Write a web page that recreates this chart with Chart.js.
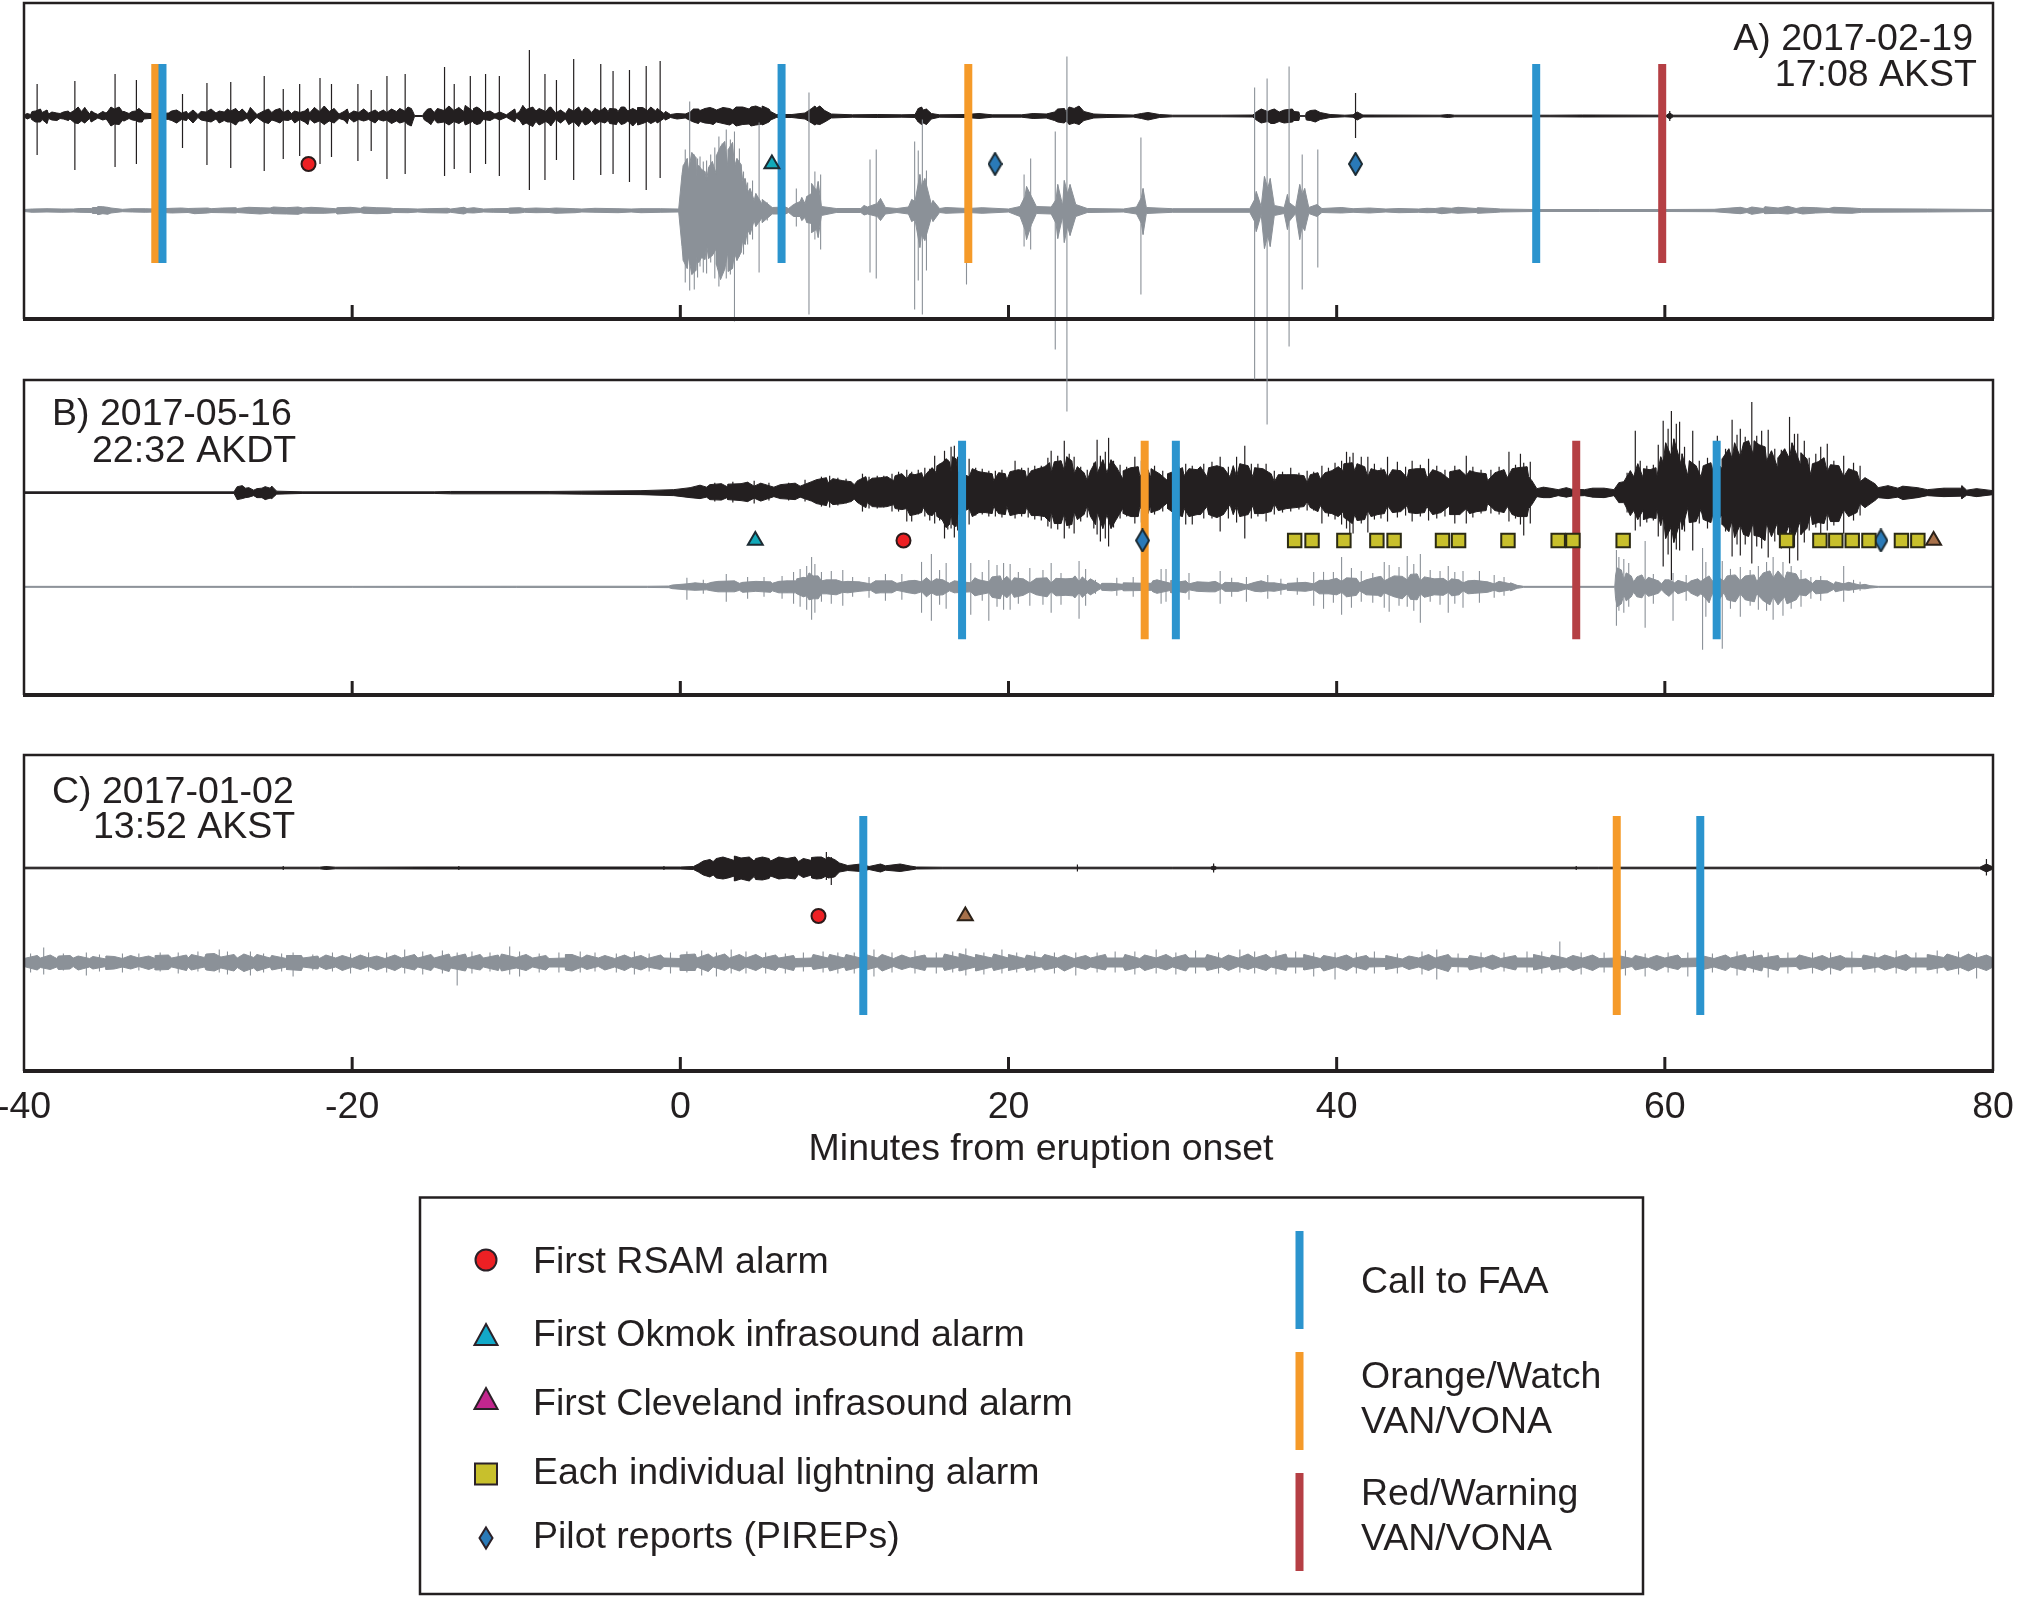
<!DOCTYPE html>
<html>
<head>
<meta charset="utf-8">
<title>Eruption timelines</title>
<script src="https://cdn.jsdelivr.net/npm/chart.js@4"></script>
<style>
  html, body { margin: 0; padding: 0; background: #fff; }
  #wrap { position: relative; width: 2018px; height: 1599px; overflow: hidden; }
  canvas { position: absolute; left: 0; top: 0; }
</style>
</head>
<body>
<div id="wrap">
  <canvas id="panelC" width="2018" height="1599"></canvas>
  <canvas id="panelB" width="2018" height="1599"></canvas>
  <canvas id="panelA" width="2018" height="1599"></canvas>
</div>
<script>
// minutes from onset; amplitudes are [minute, up, down] around the trace baseline
var tickValues = [-40, -20, 0, 20, 40, 60, 80];

// ---- panel A, 2017-02-19
var aSeisEnv = [[-40,.1,.1],[-39.6,.15,.15],[-39.3,.5,.6],[-38.9,.35,.35],[-38.5,.2,.25],[-37.8,.25,.25],[-37.2,.3,.3],[-36.9,.6,.7],[-36.5,.45,.5],[-36,.2,.25],[-35.5,.15,.2],[-35,.3,.3],[-34.5,.7,.8],[-34,.45,.45],[-33.6,.25,.25],[-33.2,.5,.45],[-32.7,.3,.3],[-32,.2,.2],[-31.2,.3,.35],[-30.4,.3,.35],[-30,.2,.2],[-29.4,.15,.15],[-28.9,.4,.5],[-28.3,.3,.3],[-27.8,.4,.45],[-27.4,.5,.6],[-26.9,.4,.5],[-26.4,.2,.2],[-25.8,.15,.15],[-25.4,.5,.6],[-24.9,.35,.4],[-24.2,.35,.4],[-23.7,.25,.3],[-23.2,.35,.35],[-22.6,.3,.3],[-22,.45,.5],[-21.4,.45,.5],[-20.8,.2,.25],[-20.2,.2,.2],[-19.6,.35,.35],[-19,.3,.35],[-18.4,.35,.35],[-17.9,.35,.4],[-17.3,.45,.5],[-16.8,.5,.55],[-16.3,.45,.5],[-16.2,.05,.05],[-15.7,.05,.05],[-15.6,.35,.4],[-15,.35,.35],[-14.4,.55,.6],[-13.8,.55,.55],[-13.2,.45,.45],[-12.6,.45,.5],[-12,.35,.35],[-11.3,.2,.2],[-10.6,.12,.12],[-10,.2,.2],[-9.4,.65,.7],[-8.8,.5,.55],[-8.2,.45,.55],[-7.6,.3,.35],[-7,.25,.3],[-6.5,.5,.55],[-6,.4,.5],[-5.4,.35,.45],[-4.9,.5,.55],[-4.4,.45,.45],[-3.8,.45,.5],[-3.2,.5,.5],[-2.6,.5,.5],[-2,.55,.55],[-1.5,.5,.5],[-1,.25,.25],[-.6,.15,.15],[-.2,.25,.3],[.3,.2,.2],[.6,.4,.45],[1.2,.55,.55],[2.2,.6,.6],[3.2,.6,.7],[4.2,.7,.8],[5,.75,.8],[5.5,.45,.4],[5.85,.15,.15],[6.8,.15,.15],[7.6,.3,.3],[8.3,.8,.8],[8.8,.55,.6],[9.2,.2,.2],[10.5,.12,.12],[12,.15,.15],[13.5,.12,.12],[14.3,.15,.15],[14.8,.6,.7],[15.3,.25,.3],[15.8,.12,.12],[17.4,.15,.15],[18.2,.25,.25],[19,.12,.12],[20.8,.12,.12],[21.5,.25,.25],[22.3,.2,.2],[22.8,.4,.45],[23.5,.45,.5],[24,.75,.7],[24.6,.45,.45],[25.2,.2,.2],[26,.15,.15],[27.6,.1,.1],[28.1,.25,.25],[28.5,.35,.4],[29.2,.15,.15],[30,.08,.08],[33,.08,.08],[34.9,.1,.1],[35.1,.4,.4],[35.8,.45,.55],[36.5,.4,.55],[37.4,.45,.45],[37.7,.4,.45],[37.75,.03,.03],[38.1,.03,.03],[38.15,.35,.4],[39,.35,.35],[39.6,.15,.15],[40.5,.08,.08],[41,.12,.12],[41.25,.4,.4],[41.6,.1,.1],[46.3,.08,.08],[46.8,.15,.15],[47.2,.08,.08],[53,.08,.08],[55,.1,.1],[60.1,.08,.08],[60.3,.3,.3],[60.5,.08,.08],[80,.08,.08]];
var aSeisSpikes = [[-39.2,3.2,3.9],[-36.9,3.5,5.4],[-34.45,4.2,5.1],[-33.15,3.6,4.8],[-30.34,2.2,3.2],[-28.85,3.3,4.9],[-27.4,3.4,5.2],[-25.36,4,5.5],[-24.2,2.7,4.3],[-23.2,3.2,4],[-21.96,3.8,4.8],[-21.26,3.2,4.1],[-19.65,3.2,4.5],[-18.84,2.6,3.5],[-17.88,4,6.3],[-16.77,4.2,5.8],[-14.37,4.9,6],[-13.78,3.2,5.3],[-12.8,4,5.7],[-11.87,4.2,4.8],[-11.03,4,6],[-9.2,6.6,7.4],[-8.25,4.2,6.4],[-7.55,3.6,4.4],[-6.5,5.7,6.4],[-4.85,5.2,5.9],[-4.1,4.5,5.8],[-3.1,4.6,6.6],[-2.08,5,7.4],[-1.23,5.5,6.2],[41.15,2.3,2.2],[60.3,.5,.5]];
var aSeisFine = [[-39.8,.25,.3],[-39.5,.45,.4],[-39,.7,.6],[-38.6,.6,.75],[-38.3,.4,.4],[-38,.3,.45],[-37.6,.4,.3],[-37.3,.5,.45],[-36.7,.9,.75],[-36.3,.85,.7],[-35.9,.5,.6],[-35.7,.3,.4],[-35.2,.45,.4],[-34.9,.45,.5],[-34.7,.9,1],[-34.2,.9,.85],[-33.9,.45,.5],[-33.4,.45,.4],[-33,.75,.6],[-32.8,.5,.6],[-31,.5,.45],[-30.7,.6,.7],[-30.1,.45,.45],[-29.7,.6,.7],[-29.2,.45,.4],[-28.6,.7,.6],[-28.1,.5,.7],[-27.6,.7,.6],[-27.1,.75,.9],[-26.7,.7,.5],[-26.2,.85,.75],[-25.9,.3,.25],[-25.1,.7,.75],[-24.7,.6,.5],[-24.4,.75,.7],[-23.9,.6,.45],[-23.5,.5,.7],[-22.9,.5,.6],[-22.7,.75,.85],[-22.3,.85,.7],[-21.7,1,.85],[-21.1,.75,.7],[-20.5,.45,.4],[-20.3,.7,.75],[-19.9,.5,.6],[-19.3,.7,.5],[-18.6,.6,.7],[-18.1,.6,.5],[-17.6,.7,.75],[-17.1,.75,.7],[-16.6,.9,.85],[-16.4,.75,1],[-15.4,.7,.6],[-15.2,.75,.85],[-14.8,.75,.7],[-14.1,1,.9],[-13.5,.85,.75],[-13.1,1.05,.9],[-12.6,.75,.7],[-12.4,.9,.85],[-12.2,.7,.75],[-11.6,.5,.45],[-11,.4,.4],[-10.1,.7,.6],[-9.8,.45,.4],[-9.6,1.05,.9],[-9,.9,1.05],[-8.6,.75,.9],[-8,.85,.75],[-7.9,.9,1],[-7.3,.6,.7],[-6.8,.75,.85],[-6.2,.9,1.05],[-5.8,.85,.9],[-5.6,.7,.75],[-5.2,.75,.85],[-4.6,.85,.7],[-4.3,.75,.75],[-3.9,.7,.85],[-3.6,.9,.85],[-3.4,.9,.75],[-2.9,.75,1],[-2.6,.85,.9],[-2.3,.85,.75],[-1.8,.9,.75],[-1.4,.75,.7],[-.9,.45,.4],[.8,.7,.6],[1.1,.7,.75],[1.5,.75,.7],[1.8,.85,.75],[2,.75,.85],[2.6,.85,.75],[3,.75,.9],[3.4,.9,1],[3.8,.9,.85],[4.3,.9,1],[4.6,1,.9],[5,1,.9],[5.4,.7,.6],[8,.75,.7],[8.2,1,.9],[8.5,1,.85],[14.5,.75,.6],[14.7,.9,.85],[15,.7,.85],[23,.7,.6],[23.4,.75,.7],[23.7,.9,.85],[24.3,1,.85],[35.4,.7,.7],[36,.6,.75],[36.2,.7,.75],[36.8,.6,.7],[37.3,.7,.6],[38.4,.55,.45],[38.7,.6,.6]];
var aInfraEnv = [[-40,.1,.1],[-37,.15,.15],[-35.9,.2,.2],[-35.5,.3,.3],[-34.7,.25,.25],[-34,.12,.12],[-32,.15,.15],[-30,.2,.2],[-28.6,.18,.2],[-27,.2,.2],[-25,.25,.25],[-23,.25,.25],[-21,.18,.22],[-19.5,.22,.2],[-17.5,.2,.2],[-16,.15,.15],[-14,.15,.18],[-13,.2,.22],[-12,.15,.15],[-10.5,.2,.2],[-9.5,.2,.18],[-8,.2,.2],[-6,.15,.15],[-3,.15,.15],[-.1,.15,.15],[.1,3.6,3.6],[.5,4,4.6],[1,3.4,4.6],[1.6,3,3.4],[2.2,3.6,3.8],[2.9,4.4,4.2],[3.3,4.4,4.2],[3.8,3,3],[4.1,1.8,1.9],[4.5,1,1],[5,.6,.7],[5.6,.3,.35],[6.6,.2,.2],[6.9,.6,.6],[7.3,.9,.6],[7.6,.7,.7],[8,1.7,1.3],[8.3,2,1.9],[8.6,.4,.5],[9.5,.2,.2],[11,.2,.2],[11.4,.35,.35],[12,.7,.6],[12.5,.3,.35],[13.2,.2,.2],[13.9,.35,.35],[14.3,.9,.9],[14.7,2.4,2.4],[15.3,.6,.7],[15.8,.2,.2],[17.5,.2,.2],[20,.15,.15],[20.7,.4,.6],[21,1.4,1.9],[21.4,1.4,1.4],[21.7,.4,.3],[22.6,.35,.35],[22.9,1.1,1.3],[23.3,.5,.6],[23.6,1.7,1.6],[24.1,.6,.6],[24.8,.2,.2],[27,.15,.15],[27.8,.35,.35],[28.1,1.3,1.3],[28.4,.3,.3],[30,.18,.18],[34.7,.18,.18],[35,1.1,1.1],[35.4,.4,.4],[35.8,2.2,2.5],[36.2,.5,.5],[36.8,.3,.3],[37.1,.8,1.1],[37.5,.3,.3],[37.9,1.6,1.6],[38.3,.3,.3],[38.8,.6,.6],[39.1,.2,.2],[41,.18,.18],[43,.15,.15],[45,.15,.18],[46,.2,.2],[47,.22,.22],[48.5,.2,.2],[50,.15,.15],[52,.1,.1],[56,.1,.1],[60,.1,.1],[63,.12,.12],[65,.18,.2],[66,.2,.2],[68,.2,.2],[70,.2,.2],[72,.18,.18],[76,.15,.15],[80,.1,.1]];
var aInfraSpikes = [[.3,6.1,7.2],[.57,10.9,8],[.85,5.6,7.9],[1.05,5.2,6.7],[1.2,5.4,5.6],[1.4,4.9,6.2],[1.6,5,6.3],[1.85,5.6,5.2],[2.1,6.3,6.8],[2.35,7.4,7.6],[2.55,6.7,6.1],[2.8,8.1,6.8],[3.05,7.1,6.4],[3.3,7.9,11.1],[3.6,6.2,4.6],[3.85,3.9,4.4],[4.1,2.8,3.4],[4.4,3,2.9],[4.8,8.8,6.2],[5.3,.8,1],[7.07,2.2,1.6],[7.84,11.8,10.4],[8.2,3.9,2.9],[8.55,3.6,3.9],[11.56,5.1,6.2],[11.94,6.1,6.8],[14.28,6.9,9.9],[14.5,6,7],[14.75,9.1,10.4],[15,4,6],[17.44,.3,7.4],[20.95,3.6,3.6],[21.35,5.2,3.9],[22.85,7.9,13.9],[23.56,15.4,20.1],[28.07,7.3,8.4],[35,12.3,16.9],[35.76,13.2,21.4],[37.1,14.4,13.6],[37.9,5.6,7.9],[38.85,6.1,5.7]];
var aInfraFine = [[-39.5,.15,.18],[-38.6,.18,.15],[-37.7,.15,.18],[-36.6,.2,.18],[-35.8,.3,.3],[-35.5,.4,.42],[-35.2,.38,.32],[-34.9,.32,.38],[-33.4,.18,.15],[-32.6,.18,.18],[-31,.22,.25],[-30.4,.25,.22],[-29.6,.22,.32],[-28.8,.25,.25],[-27.9,.25,.22],[-27.1,.28,.25],[-26.3,.32,.28],[-25.6,.28,.35],[-24.8,.35,.32],[-24,.28,.35],[-23.3,.35,.38],[-22.5,.32,.28],[-21.7,.25,.28],[-20.9,.28,.35],[-20.1,.32,.25],[-19.3,.35,.28],[-18.5,.28,.32],[-17.7,.25,.28],[-16.6,.18,.22],[-15.4,.18,.22],[-14.2,.22,.25],[-13.2,.32,.35],[-12.6,.28,.25],[-11.4,.18,.18],[-10.4,.25,.28],[-9.8,.28,.25],[-8.8,.25,.22],[-7.6,.25,.28],[-6.4,.18,.22],[-5.2,.22,.18],[-3.8,.18,.22],[-2.4,.18,.22],[-1.2,.18,.18],[.18,4.5,5],[.42,5.2,5.8],[.7,5.8,6.4],[.95,5.3,6],[1.12,4.5,5.2],[1.3,4.1,4.7],[1.5,3.9,4.9],[1.72,4.3,4.8],[1.95,4.9,4.5],[2.2,5.5,5.4],[2.45,6.4,6.9],[2.7,6.9,5.9],[2.92,6.1,6.1],[3.18,6.8,5.8],[3.45,5.2,5],[3.7,4.6,4.2],[3.95,3.2,3.4],[4.25,2.2,2.4],[4.6,1.7,1.6],[5,1.1,1.2],[6.4,.35,.35],[7.4,1.3,1],[7.7,1.4,1.2],[8,2.7,2.2],[8.4,2.9,2.7],[11.2,.5,.45],[12.2,1.2,1],[14.1,1.1,1.1],[14.6,3.6,3.7],[14.9,3.2,3],[15.4,1,1.1],[16.2,.3,.28],[18.4,.28,.28],[21.1,2.4,2.9],[23,2.6,2.8],[23.4,3,3.2],[23.75,2.6,2.5],[28.2,2.2,2.4],[35.1,1.9,2.1],[35.6,3.4,3.8],[35.95,3.2,3.6],[37,1.6,1.9],[37.75,2.6,2.9],[38.05,2.2,2],[40.3,.3,.25],[42,.25,.25],[43.8,.2,.22],[45.5,.22,.22],[46.4,.28,.32],[47.4,.32,.28],[48.6,.28,.28],[49.6,.2,.2],[64.6,.32,.32],[65.3,.35,.38],[66.1,.38,.32],[66.9,.25,.28],[67.5,.42,.35],[68.4,.32,.35],[69.2,.28,.25],[70.3,.32,.25],[71.4,.25,.28]];
var aCalls = [-31.56, 6.17, 52.16];
var aOrange = [-32, 17.55];
var aRed = [59.84];
var aRsam = [-22.66];
var aOkmok = [5.58];
var aCleveland = [];
var aLightning = [];
var aPireps = [19.18, 41.15];

// ---- panel B, 2017-05-16
var bSeisEnv = [[-40,.08,.08],[-27.2,.08,.08],[-27.05,.5,.55],[-26.5,.45,.5],[-26,.25,.3],[-25.5,.45,.5],[-25,.45,.55],[-24.6,.15,.15],[-23,.08,.08],[-15,.08,.08],[-14,.12,.12],[-8,.12,.12],[-6,.15,.15],[-2.4,.2,.2],[-.4,.3,.3],[1.6,.55,.45],[2.85,.6,.5],[4.5,.65,.55],[5.7,.55,.4],[7.3,.65,.45],[9,1,.8],[10.6,.8,.65],[11.4,1.1,1],[13,1.2,1.2],[13.8,1.4,1.6],[14.8,1.5,1.5],[15.6,2,1.8],[16.5,2.1,2.1],[16.9,2.1,2.2],[17.6,1.6,1.6],[19.1,1.2,1.4],[19.9,1.3,1.4],[21.1,1.5,1.5],[22.6,2,1.9],[23.4,2.2,2.1],[24,1.9,1.9],[24.8,1.2,1.3],[25.4,1.9,1.9],[26,2,2.2],[27,1.3,1.5],[28,1.7,1.5],[28.7,1.4,1.2],[29.7,1.2,1],[30.7,1.7,1.6],[32.1,1.6,1.4],[33.5,1.6,1.2],[33.9,1.6,1.3],[34.9,1.6,1.3],[36.2,1.1,1.1],[38.2,1,.9],[39,1.4,1.3],[40.4,2.2,1.9],[41.1,2.2,2.2],[41.9,1.6,1.8],[43.1,1.5,1.3],[44.3,1.5,1.3],[45.5,1.5,1.4],[46.9,1.3,1.3],[47.9,1.7,1.6],[49.2,1.2,1.1],[50.4,1.5,1.4],[51.7,1.6,1.6],[51.9,1.2,1.2],[52.2,.4,.4],[53.5,.3,.3],[54.3,.35,.35],[55.1,.3,.3],[56.9,.3,.3],[57.5,1.1,1],[58.1,1.6,1.8],[58.7,1.4,1.7],[59.5,1.5,1.6],[59.9,3,2.3],[60.4,3.6,3.4],[61,2.8,2.6],[61.4,1.7,1.5],[62.2,1.6,1.7],[62.9,2.2,2.2],[63.5,2.4,2.2],[64.1,3.4,2.8],[64.6,3.6,3.2],[65.4,3.8,3],[66.2,3.2,3.1],[66.9,2.4,2.9],[67.6,3.4,3.1],[68.3,2.7,2.7],[68.9,1.8,2.1],[69.9,2.1,2],[70.9,1.6,1.7],[71.9,1.1,1.1],[73,.5,.5],[74.2,.45,.45],[76,.3,.3],[78.1,.45,.35],[78.4,.25,.25],[80,.2,.2]];
var bSeisSpikes = [[2.1,1,.9],[3.2,1.1,1],[4.5,1.2,1.1],[5.4,1,.8],[6.6,1,.8],[7.6,1.3,.9],[8.6,1.6,1.4],[9.1,1.7,1.5],[9.6,1.5,1.3],[10.1,1.4,1.1],[11.1,1.9,1.9],[11.5,1.6,1.6],[12,1.7,1.6],[12.4,1.7,1.5],[12.9,1.9,1.9],[13.3,2.1,1.9],[13.8,2.3,2.9],[14.1,2.1,2.9],[14.5,2.3,2.2],[14.9,2.5,2.4],[15.2,2.4,2.8],[15.5,3.7,3.1],[15.8,2.9,2.8],[16.1,4.2,4.6],[16.3,3.3,3.7],[16.5,4.6,3.6],[16.7,4.7,4.5],[16.9,3.6,3.8],[17.6,3.4,3.2],[18,2.5,2.3],[18.4,2.4,2.2],[18.8,2.2,2.4],[19.2,2.2,2.4],[19.6,2.3,2.5],[20.4,3.2,2.6],[20.8,2.5,2.4],[21.2,2.5,2.5],[21.6,2.7,2.7],[22,2.7,2.8],[22.4,3.5,3.4],[22.6,4.2,3.6],[23,3.7,3.7],[23.4,5.2,4.6],[23.7,3.9,3.6],[24,3.6,4.1],[24.4,2.6,2.9],[24.8,2.3,2.5],[25.2,3,3.6],[25.4,5.3,4.2],[25.6,3.7,4.9],[25.9,4.1,4.6],[26.1,5.5,5.4],[26.4,3.2,3.5],[26.8,2.8,2.6],[27.2,2.6,2.4],[27.7,3.6,3.1],[28.1,3.2,3],[28.9,2.7,2.2],[29.4,2.2,1.9],[30.4,2.6,2.7],[30.8,2.9,3.2],[31.2,2.7,3.2],[31.9,2.9,2.6],[32.4,3.1,2.6],[32.9,3.6,3.9],[33.4,2.6,2.6],[33.9,3.6,3],[34.4,4.7,4.6],[34.8,2.9,2.6],[35.2,2.9,2.4],[35.7,2.9,2.9],[36.2,2.2,2.2],[36.7,2.1,2],[37.2,2.5,1.9],[37.7,2,1.7],[38.2,2.2,1.8],[38.6,2.1,1.8],[39.1,2.7,3.1],[39.5,2.5,2.4],[39.9,3,2.7],[40.3,3.2,3.2],[40.6,4.1,3.6],[40.8,3.6,4.6],[41,4,4.1],[41.5,3.6,3.1],[41.9,3.6,4],[42.3,2.9,2.7],[42.7,2.5,2.6],[43.1,3.6,2.9],[43.7,3.1,2.5],[44.2,2.6,2.3],[44.6,3.2,2.9],[45.1,2.8,2.4],[45.6,3.4,2.8],[46.1,2.7,2.6],[46.6,2.3,2.4],[47.2,2.7,3.1],[47.9,3.7,3.1],[48.3,2.6,2.5],[48.8,2.3,2.1],[49.4,2.3,2.1],[49.9,2.6,2.2],[50.5,4.1,2.9],[50.9,2.8,2.6],[51.2,3.9,3.2],[51.4,3,4.3],[51.8,3.1,3.1],[57.7,2,2],[58.2,6.2,3.8],[58.5,3.2,3.4],[58.9,2.7,3],[59.3,2.8,2.8],[59.6,4.8,4.4],[59.9,7.2,7.4],[60.2,6.4,6.2],[60.4,8.2,8.8],[60.7,6.9,5.7],[60.9,7.1,5.8],[61.2,4.6,3.9],[61.7,6.2,5.8],[62.1,3.2,3.1],[62.6,3.5,3.6],[63.2,5.7,4.4],[63.7,4.4,3.9],[64.1,7.3,6.4],[64.4,5.8,5.2],[64.6,6.4,6.3],[64.9,5.6,5.2],[65.3,9.1,7.1],[65.6,5.7,5.4],[65.9,6.2,5.6],[66.3,6.3,6.5],[66.7,4.4,4.9],[67.1,4.3,5.6],[67.6,7.6,7.1],[67.9,5.9,5.5],[68.1,5.9,6.8],[68.5,5.2,5],[68.8,3.5,3.8],[69.2,3.9,3.5],[69.5,4.6,4.1],[69.9,4.9,3.8],[70.3,3.2,3.3],[70.9,3.7,4.1],[71.5,3,2.8],[71.9,2.7,2.3],[72.4,1,1]];
var bSeisFine = [[-27,.6,.7],[-26.7,.7,.6],[-26.3,.5,.45],[-25.8,.4,.5],[-25.3,.6,.7],[-24.9,.65,.6],[.6,.5,.5],[1.2,.75,.6],[1.8,.8,.7],[2.5,.9,.75],[2.9,.85,.7],[3.7,.9,.8],[4.1,1.05,.9],[4.9,.95,.85],[6.1,.8,.6],[7,.95,.7],[8,1.1,.85],[8.3,1.3,1.1],[8.9,1.5,1.3],[9.3,1.4,1.2],[9.9,1.2,1.1],[10.4,1.1,.9],[10.8,1.2,1],[11.3,1.6,1.5],[11.7,1.45,1.4],[12.2,1.5,1.45],[12.6,1.6,1.4],[13.1,1.7,1.6],[13.5,1.9,1.7],[14,1.9,2.3],[14.3,1.8,2.2],[14.7,2,2],[15.1,2.1,2.2],[15.35,2.5,2.3],[15.65,2.7,2.4],[15.95,3,2.7],[16.2,3.4,3.5],[16.4,3.1,3.2],[16.6,3.6,3.2],[16.8,3.4,3.4],[17.8,2.4,2.4],[18.2,2.1,2],[18.6,2,2],[19,1.9,2.1],[19.4,2,2.1],[19.8,1.9,2.2],[20.1,2.1,2.3],[20.6,2.3,2.1],[21,2.2,2.1],[21.4,2.2,2.3],[21.8,2.4,2.3],[22.2,2.6,2.4],[22.5,3,2.9],[22.8,3.1,3.1],[23.2,3.2,3.1],[23.55,3.6,3.3],[23.85,3.2,3.2],[24.2,2.6,2.7],[24.6,2,2.2],[25,2.2,2.4],[25.3,3.1,3.2],[25.75,3.3,3.6],[26.25,3.3,3.6],[26.6,2.5,2.6],[27,2.2,2.1],[27.45,2.5,2.4],[27.9,2.6,2.4],[28.5,2.3,2.1],[28.7,2.4,2],[29.2,1.9,1.7],[29.7,1.9,1.6],[30.2,2.2,2.2],[30.6,2.5,2.4],[31,2.4,2.4],[31.5,2.3,2.2],[31.7,2.6,2.2],[32.2,2.5,2.2],[32.7,2.7,2.5],[33.1,2.5,2.2],[33.7,2.7,2.2],[34.1,2.9,2.4],[34.6,2.7,2.2],[35,2.5,2.1],[35.5,2.4,2.1],[36,1.9,1.9],[36.45,1.8,1.8],[36.95,1.8,1.6],[37.5,1.8,1.5],[38,1.7,1.4],[38.4,1.8,1.5],[38.85,2,1.9],[39.3,2,2],[39.7,2.2,2.1],[40.1,2.6,2.4],[40.45,2.9,2.5],[40.95,3,3.1],[41.25,2.9,2.8],[41.7,2.6,2.7],[42.1,2.4,2.4],[42.5,2.2,2.2],[42.9,2.3,2.1],[43.4,2.3,2],[43.9,2.2,1.9],[44.4,2.3,2],[44.85,2.4,2.1],[45.35,2.4,2],[45.85,2.3,2.2],[46.35,2,2],[46.9,2.1,2.2],[47.5,2.3,2.2],[48.1,2.2,2.1],[48.55,2,1.9],[49.1,1.9,1.8],[49.65,2,1.8],[50.2,2.3,2],[50.7,2.4,2.2],[51.05,2.5,2.4],[51.6,2.6,2.4],[52.6,.55,.5],[53,.45,.5],[54,.5,.45],[55.6,.45,.45],[56.3,.45,.5],[57.2,1,1],[57.9,2.2,2.3],[58.35,2.9,2.7],[58.7,2.4,2.7],[59.1,2.3,2.5],[59.45,2.5,2.6],[59.75,3.6,3.3],[60.05,5,4.6],[60.55,5.4,5],[61.05,3.9,3.7],[61.5,3.2,3],[61.9,2.7,2.9],[62.35,2.7,2.7],[62.8,3,3],[63,3.3,3.3],[63.5,3.4,3.2],[63.9,4.4,3.9],[64.25,5,4.5],[64.8,5,4.2],[65.1,5.2,4.4],[65.45,5.2,4.3],[65.75,4.8,4.4],[66.1,4.6,4.8],[66.5,4.2,4.4],[66.9,3.5,4.2],[67.3,4.4,4.5],[67.75,5,5],[68.3,4,4.2],[68.65,3.4,3.6],[69,2.9,3.2],[69.35,3.1,3],[69.7,3.5,3.1],[70.1,2.8,2.9],[70.6,2.7,2.9],[71.2,2.4,2.4],[71.7,2.1,2],[72.2,1.5,1.5],[72.8,.9,.8],[73.6,.7,.6],[74.5,.65,.7],[75.4,.5,.5],[77,.45,.4],[78.1,.7,.6],[79,.4,.4]];
var bInfraEnv = [[-40,.05,.05],[-20,.05,.05],[-10,.06,.06],[-2,.06,.06],[-.7,.08,.08],[-.5,.18,.18],[.4,.3,.3],[1.6,.3,.3],[3.6,.35,.35],[5.6,.35,.4],[7.1,.6,.6],[7.7,.9,.9],[8.1,1.1,1.2],[8.6,.6,.7],[9.9,.5,.55],[11.6,.3,.35],[13.2,.35,.35],[14.7,.5,.5],[15.3,.5,.6],[16.4,.35,.4],[17.7,.4,.5],[18.8,.5,.6],[19.6,.6,.7],[20.2,.55,.6],[21.3,.4,.5],[22.6,.4,.5],[24.3,.55,.6],[24.8,.55,.6],[25.6,.2,.2],[27,.25,.25],[28.7,.35,.35],[29.9,.35,.35],[31,.3,.3],[33,.2,.2],[34.5,.2,.2],[35.8,.4,.4],[37,.2,.2],[38.6,.3,.3],[40.3,.55,.55],[41.4,.4,.4],[42.9,.6,.6],[44.3,.7,.7],[45.1,.6,.7],[46.8,.5,.55],[47.7,.4,.4],[49.6,.3,.35],[50.6,.3,.3],[51,.15,.15],[51.4,.05,.05],[56.95,.05,.05],[57,1.2,1.2],[57.5,.7,.8],[58.1,.5,.55],[58.8,.6,.6],[59.8,.3,.3],[60.6,.4,.4],[61.4,.35,.35],[62.2,.55,.7],[62.4,.8,1],[62.9,.55,.6],[63.6,.6,.6],[64.6,.6,.7],[65.6,.55,.7],[66.6,.9,1],[67.3,.8,1],[68.2,.7,.8],[69,.35,.35],[70.3,.25,.25],[70.9,.3,.3],[71.9,.18,.18],[72.5,.12,.12],[73,.05,.05],[80,.05,.05]];
var bInfraSpikes = [[.4,.9,1.3],[1.4,.7,.7],[2.8,1.3,1.5],[4.1,1,1.2],[5.1,1,1],[6.2,1.1,1.2],[6.9,1.5,1.7],[7.3,1.8,2],[7.7,2.1,2.3],[8,3,3.3],[8.2,2.3,2.6],[8.6,1.5,1.5],[9.2,1.6,1.7],[9.9,1.7,1.9],[10.5,1,1],[11.5,1,1.1],[12.5,1.3,1.4],[13.5,1.3,1.3],[14.7,2.5,2.6],[15.3,3.3,3.4],[15.8,1.7,1.8],[16.2,2.4,2.2],[17.7,2.4,2.8],[18.4,1.5,1.4],[18.8,2.7,3.4],[19.3,2.2,2],[19.7,2.4,2.3],[20.1,2.3,2.3],[20.6,1.5,1.7],[21.3,1.9,1.9],[22.1,1.7,1.8],[22.6,2.4,2.6],[23.2,1.4,1.8],[24.3,2.6,3.2],[24.7,1.8,1.9],[25.3,.7,.7],[26.6,.9,.9],[27.6,1,1],[29.3,1.8,1.7],[29.6,1.8,1.5],[31,1.4,1.3],[32.9,1.6,1.7],[33.6,.9,1],[34.5,1,1.5],[35.8,1.2,1.2],[36.6,.8,.8],[37.6,.9,.8],[38.6,1.5,1.9],[39.2,1.5,2.2],[39.8,1.5,1.6],[40.3,3,2.8],[40.9,1.9,2.1],[41.5,1.6,1.5],[42.2,1.4,1.6],[42.9,2.5,2.1],[43.2,2.2,2.5],[43.8,2,1.9],[44.3,3.1,2],[44.7,2.3,2.4],[45.1,3.3,3.6],[45.7,1.7,1.5],[46.3,1.6,1.8],[46.8,2.1,2.6],[47.2,1.5,1.7],[47.7,1.6,2.1],[48.7,1.6,1.6],[49.6,1.2,1.1],[50.2,1,.9],[57.05,3.7,3.9],[57.2,3,2.4],[57.5,2.8,2.6],[57.8,2.4,2],[58.8,4.6,4.1],[59.3,1.3,1.7],[60.5,1.4,3.4],[61.3,1.2,1.4],[62.3,3.9,6.3],[62.5,2.5,3],[63.5,2.6,6.2],[64,1.8,2.2],[64.6,2,3],[65.2,1.7,1.9],[65.7,2.1,2.3],[66.2,2.5,2.4],[66.6,3,3.3],[67.2,2.5,2.9],[67.7,2.1,2.2],[68.3,1.7,2],[68.9,1,1.2],[69.5,1.1,1.4],[70.9,2.1,1.5],[71.5,.7,.6],[71.9,.5,.4]];
var bInfraFine = [[.9,.4,.35],[1.9,.45,.4],[2.3,.55,.5],[3.3,.6,.5],[3.8,.45,.55],[4.6,.55,.45],[5.5,.5,.55],[6,.55,.6],[6.5,.6,.6],[7.1,.8,.7],[7.5,.95,1],[7.85,1.4,1.3],[8.4,1.1,1.2],[8.9,.7,.7],[9.5,.7,.8],[10.2,.55,.6],[10.9,.5,.45],[11.9,.6,.65],[12.2,.6,.6],[12.9,.6,.6],[13.9,.6,.6],[14.3,.65,.7],[15,.9,1],[15.6,.8,.85],[16,.7,.8],[16.7,.6,.6],[17.95,.9,.9],[18.2,.7,.8],[19,1,1.05],[19.5,1.1,1.2],[19.9,1.05,1.1],[20.35,.9,1.05],[20.9,.8,.85],[21.7,.85,.8],[22.35,.9,1],[22.9,.85,.9],[23.5,.8,.85],[23.9,.85,.9],[24.05,1.1,1.1],[24.5,1,1.05],[25,.8,.8],[25.7,.35,.35],[26.3,.35,.4],[27,.4,.4],[28.8,.6,.5],[29.05,.7,.65],[29.9,.65,.6],[30.4,.5,.5],[30.8,.6,.6],[31.5,.5,.45],[32.2,.45,.5],[32.6,.55,.5],[33.2,.45,.45],[34,.4,.45],[35,.45,.45],[35.4,.6,.5],[36.2,.4,.45],[37,.35,.35],[38.1,.45,.45],[38.95,.65,.7],[39.5,.65,.7],[40,.85,.8],[40.6,.9,1],[41.2,.85,.85],[41.8,.7,.8],[42.5,1,.85],[42.7,1.05,1],[43.5,1.1,1],[44,1.05,1.2],[44.5,1.25,1.25],[44.9,1.3,1.3],[45.35,1,1.05],[45.95,.8,.8],[46.5,.85,.85],[47,.8,.9],[47.45,.7,.8],[48,.6,.7],[48.4,.65,.65],[49.2,.5,.55],[49.9,.55,.5],[50.6,.4,.4],[57.1,1.9,2],[57.35,1.7,1.7],[57.65,1.4,1.4],[57.95,1.1,1],[58.3,1,1],[58.6,1.2,1.1],[59,.95,.95],[59.6,.6,.65],[60,.7,.65],[60.25,.7,.95],[60.8,.65,.7],[61.6,.6,.65],[62,.8,.95],[62.7,1.1,1.6],[63.1,1.1,1.8],[63.8,1.1,1.3],[64.3,1.2,1.5],[64.9,1.1,1.3],[65.45,1.2,1.5],[66,1.4,1.4],[66.4,1.6,1.8],[66.9,1.6,1.8],[67.45,1.5,1.7],[68,1.3,1.3],[68.6,.8,.9],[69.2,.65,.7],[69.9,.6,.6],[70.4,.5,.5],[71.2,.45,.35],[72.2,.25,.2]];
var bCalls = [17.17, 30.2, 63.16];
var bOrange = [28.3];
var bRed = [54.6];
var bRsam = [13.6];
var bOkmok = [4.57];
var bCleveland = [76.38];
var bLightning = [37.44, 38.5, 40.44, 42.45, 43.5, 46.45, 47.43, 50.44, 53.5, 54.4, 57.46, 67.42, 69.45, 70.42, 71.42, 72.44, 74.42, 75.42];
var bPireps = [28.17, 73.17];

// ---- panel C, 2017-01-02
var cSeisEnv = [[-40,.08,.08],[-22,.08,.08],[-21.6,.15,.15],[-21,.08,.08],[-15.5,.1,.1],[0,.1,.1],[.8,.15,.15],[1.1,.4,.4],[2,.65,.7],[3.3,.75,.8],[4.5,.7,.85],[5.5,.7,.8],[7.2,.65,.65],[8,.75,.7],[8.9,.85,.8],[9.7,.5,.4],[10.2,.25,.25],[11.5,.15,.15],[12.5,.22,.22],[14,.2,.2],[14.4,.1,.1],[16,.08,.08],[30,.08,.08],[32.3,.08,.08],[32.5,.2,.2],[32.7,.08,.08],[79.2,.08,.08],[79.6,.4,.4],[80,.1,.1]];
var cSeisSpikes = [[-24.2,.2,.2],[-13.5,.2,.2],[-1,.2,.2],[24.2,.35,.35],[32.5,.45,.45],[54.6,.2,.2],[79.6,.9,.75],[8.9,1.6,1.2],[9.2,1.1,1.7]];
var cSeisFine = [[1.4,.7,.7],[1.8,.85,.9],[2.2,.95,1],[2.6,1.1,1.1],[2.9,.95,1],[3.3,1.2,1.3],[3.7,1,1.1],[4.2,1.1,1.3],[4.6,.95,1.15],[5,1.1,1.2],[5.4,.95,1.05],[6,1.1,1.1],[6.5,.95,1],[7,1.1,1.1],[7.5,.95,.95],[8,1.05,1],[8.3,1.1,1.1],[8.6,1.1,1.05],[9,1.1,1],[9.4,.85,.9],[11,.4,.35],[12.2,.4,.4],[13.4,.4,.35]];
var cInfraEnv = [[-40,.4,.4],[-39,.45,.5],[-38,.4,.45],[-37,.45,.4],[-36,.4,.45],[-35,.35,.4],[-34,.4,.45],[-33,.45,.4],[-32,.4,.45],[-31,.45,.45],[-30,.45,.45],[-29,.5,.45],[-28,.55,.55],[-27,.45,.5],[-26,.5,.55],[-25,.45,.45],[-24,.4,.45],[-23,.45,.45],[-22,.4,.4],[-21,.45,.45],[-20,.4,.45],[-19,.45,.4],[-18,.4,.45],[-17,.45,.45],[-16,.45,.45],[-15,.45,.45],[-14,.5,.55],[-13,.45,.5],[-12,.45,.45],[-11,.45,.45],[-10,.5,.55],[-9,.45,.45],[-8,.4,.45],[-7,.45,.45],[-6,.45,.45],[-5,.45,.4],[-4,.4,.45],[-3,.45,.45],[-2,.4,.45],[-1,.45,.4],[0,.4,.45],[1,.45,.45],[2,.5,.45],[3,.45,.5],[4,.45,.45],[5,.45,.45],[6,.45,.45],[7,.4,.45],[8,.45,.4],[9,.45,.45],[10,.45,.45],[11,.45,.45],[12,.45,.45],[13,.4,.4],[14,.45,.45],[15,.45,.45],[16,.45,.45],[17,.5,.45],[18,.45,.45],[19,.45,.45],[20,.45,.45],[21,.4,.45],[22,.45,.45],[23,.45,.45],[24,.4,.4],[25,.45,.45],[26,.45,.45],[27,.45,.45],[28,.4,.45],[29,.45,.45],[30,.45,.45],[31,.45,.45],[32,.45,.45],[33,.4,.45],[34,.45,.4],[35,.45,.45],[36,.45,.45],[37,.45,.45],[38,.45,.45],[39,.4,.45],[40,.45,.45],[41,.4,.4],[42,.45,.45],[43,.4,.4],[44,.35,.4],[45,.45,.45],[46,.45,.5],[47,.45,.4],[48,.4,.45],[49,.45,.4],[50,.4,.4],[51,.45,.45],[52,.45,.45],[53,.45,.4],[54,.4,.45],[55,.45,.45],[56,.4,.45],[57,.45,.45],[58,.4,.4],[59,.4,.45],[60,.45,.4],[61,.4,.45],[62,.45,.4],[63,.4,.45],[64,.45,.45],[65,.45,.45],[66,.45,.45],[67,.4,.45],[68,.45,.4],[69,.4,.45],[70,.4,.45],[71,.45,.45],[72,.4,.4],[73,.45,.45],[74,.45,.45],[75,.45,.45],[76,.45,.45],[77,.5,.45],[78,.45,.5],[79,.45,.45],[80,.45,.45]];
var cInfraSpikes = [[-39.6,.9,1],[-38.8,1.5,1.2],[-37.6,.9,.8],[-36.2,1,1.3],[-35.4,.8,.9],[-34,.9,1],[-33,.9,.8],[-31.7,1,.9],[-30.6,1,1.1],[-29.4,1.1,.9],[-28.1,1.3,1],[-27.6,1.1,1.2],[-26.2,1.1,1.3],[-25.4,.9,1],[-24.3,.9,.9],[-23.6,1,1.4],[-22.4,.8,.8],[-21.2,1,.9],[-20.1,.9,1.1],[-19,1,.9],[-17.9,1,1],[-16.8,1.3,1.1],[-15.7,1.1,1.2],[-14.5,1.2,1.1],[-13.6,1,2.3],[-12.7,1.1,1.1],[-11.6,1,.9],[-10.4,1.6,1.2],[-9.8,1.1,1.4],[-8.6,.9,1],[-7.4,1,1],[-6.1,1.1,1],[-5.2,1,.9],[-3.9,.9,1],[-2.8,1.1,1.2],[-1.9,.9,.9],[-.6,1,1.1],[.4,1.1,1],[1.3,1.2,1.3],[2.2,1,1.4],[3.1,1.3,1.1],[4,1.1,1.1],[5.2,1,1.1],[6.4,.9,1.1],[7.5,1,.9],[8.7,1.1,1],[9.6,1,1.1],[10.6,1,1.1],[11.8,1.3,1.4],[12.9,1,1],[14.3,1.2,1.1],[15.6,1,1.1],[16.6,1.1,1],[17.4,1.4,1.3],[18.5,1,1.2],[19.6,1.3,1.1],[20.5,1,1],[21.6,1.1,1],[22.8,1,1.1],[24.1,1,1.3],[25.4,1,1],[26.5,1.1,1],[27.7,1.1,1.2],[29,1.3,1.1],[30.2,1,1.2],[31.4,1.2,1.1],[32.8,1,1.1],[34.1,1.3,1],[35,1.1,1.1],[36.3,1.2,1.2],[37.5,1.1,1.1],[38.6,1,1.4],[39.9,1,1.7],[41.2,1,1.1],[42.3,1.1,1.1],[43.7,.9,1.1],[45.2,1.1,1.2],[46.1,1.3,1.7],[47.4,.9,1],[48.8,1,1],[50.2,1,.9],[51.6,1.1,1],[52.5,1.1,1.1],[53.6,2.1,1],[54.9,1,1.2],[56.3,1,1],[57.6,1.2,1.3],[58.8,.9,1.4],[60.2,1,1],[61.4,1,1.4],[62.9,.9,1],[64.4,1.1,1.3],[65.4,1.2,1],[66.3,1,1.5],[67.5,1,1.1],[69,1,1.1],[70.1,1,1.2],[71.4,1.1,1.1],[72.8,1,1],[74.1,1.2,1.1],[75.3,1,1.1],[76.6,1.2,1.1],[77.9,1.1,1.2],[79,1,1.6]];
var cInfraFine = [[-39.2,.7,.75],[-38.4,.75,.7],[-37.9,.65,.7],[-37.2,.7,.65],[-36.7,.65,.75],[-35.8,.6,.65],[-35,.65,.7],[-34.5,.6,.65],[-33.5,.7,.65],[-32.4,.65,.7],[-32,.7,.75],[-31.2,.75,.7],[-30.1,.75,.8],[-29.8,.8,.75],[-28.9,.85,.75],[-28.4,.9,.85],[-27.2,.8,.85],[-26.6,.85,.9],[-25.8,.8,.85],[-24.9,.7,.75],[-24,.7,.7],[-23.1,.7,.8],[-22.1,.65,.65],[-21.6,.75,.7],[-20.6,.7,.8],[-19.5,.75,.7],[-18.5,.65,.75],[-17.4,.75,.8],[-16.2,.8,.75],[-15.2,.8,.8],[-14.1,.85,.9],[-13.1,.85,.85],[-12.2,.8,.75],[-11.1,.75,.8],[-10.9,.85,.85],[-9.4,.8,.8],[-8.2,.7,.75],[-7,.8,.75],[-6.6,.8,.85],[-5.7,.75,.7],[-4.6,.7,.75],[-3.4,.75,.8],[-2.4,.7,.75],[-1.2,.75,.7],[0,.75,.8],[.9,.85,.8],[1.7,.85,.9],[2.7,.85,.8],[3.6,.8,.85],[4.6,.8,.8],[5.8,.75,.8],[6.9,.7,.8],[8.1,.8,.7],[9.1,.8,.85],[10.1,.8,.8],[11.2,.85,.8],[12.3,.8,.85],[13.5,.75,.7],[14.9,.75,.8],[16.1,.85,.8],[17,.9,.85],[18,.8,.85],[19.1,.85,.8],[20,.8,.8],[21.1,.75,.8],[22.2,.8,.75],[23.4,.75,.85],[24.7,.7,.7],[25.9,.8,.75],[27.1,.8,.8],[28.3,.75,.8],[29.6,.8,.75],[30.8,.8,.85],[32.1,.8,.8],[33.4,.75,.8],[34.6,.85,.7],[35.7,.8,.8],[36.9,.85,.8],[38,.8,.75],[39.2,.7,.85],[40.6,.75,.8],[41.8,.7,.75],[43,.7,.7],[44.4,.65,.7],[45.6,.8,.8],[46.8,.8,.9],[48.1,.7,.75],[49.5,.75,.7],[50.9,.7,.75],[52,.8,.75],[53.1,.75,.75],[54.4,.7,.8],[55.6,.75,.8],[57,.75,.75],[58.2,.7,.75],[59.5,.7,.8],[60.8,.75,.7],[62.2,.7,.75],[63.7,.75,.8],[64.9,.8,.8],[65.9,.75,.85],[66.9,.7,.8],[68.2,.75,.7],[69.6,.7,.8],[70.7,.7,.8],[72.1,.75,.7],[73.4,.75,.75],[74.7,.8,.8],[76,.8,.75],[77.2,.85,.8],[78.5,.85,.85],[79.6,.75,.8]];
var cCalls = [11.15, 62.16];
var cOrange = [57.07];
var cRed = [];
var cRsam = [8.42];
var cOkmok = [];
var cCleveland = [17.37];
var cLightning = [];
var cPireps = [];

// trace baselines, bar extent and marker row, in panel units
var seisBase = 20.3;
var infraBase = 10.85;
var barBottom = 5.6;
var barTop = 25.5;
var markerRow = 15.5;

var ink = "#231f20";
var seisColor = "#231f20";
var infraColor = "#8b9198";
var callColor = "#2b94ce";
var orangeColor = "#f59a29";
var redColor = "#b53f44";
var font = '"Liberation Sans", Arial, sans-serif';
var fontSize = 37.5;

// narrow diamond for the PIREP markers
function diamondImage(w, h, lw) {
  var c = document.createElement("canvas");
  c.width = w; c.height = h;
  var g = c.getContext("2d");
  diamondPath(g, w / 2, h / 2, w / 2 - lw / 2, h / 2 - lw / 2);
  g.fillStyle = "#2a7ab8"; g.fill();
  g.lineWidth = lw; g.strokeStyle = "#1c2b33"; g.stroke();
  return c;
}
function diamondPath(g, x, y, rx, ry) {
  g.beginPath();
  g.moveTo(x, y - ry); g.lineTo(x + rx, y); g.lineTo(x, y + ry); g.lineTo(x - rx, y);
  g.closePath();
}

// the filled body of a trace runs through both vertex lists, in time order
function byMinute(a, b) { return a[0] - b[0]; }

function traceDatasets(env, fine, spikes, base, color, order, thick) {
  var outline = env.concat(fine).sort(byMinute);
  var upper = {
    type: "line", data: outline.map(function(v) { return {x: v[0], y: base + v[1]}; }),
    borderColor: color, backgroundColor: color, borderWidth: 1, pointRadius: 0,
    tension: 0, fill: "+1", clip: false, order: order
  };
  var lower = {
    type: "line", data: outline.map(function(v) { return {x: v[0], y: base - v[2]}; }),
    borderColor: color, borderWidth: 1, pointRadius: 0, tension: 0, fill: false, clip: false, order: order
  };
  var bars = {
    type: "bar", data: spikes.map(function(v) { return {x: v[0], y: [base - v[2], base + v[1]]}; }),
    backgroundColor: color, barThickness: thick, grouped: false, clip: false, order: order, inflateAmount: 0
  };
  return [upper, lower, bars];
}

function eventBars(xs, color) {
  return {
    type: "bar", data: xs.map(function(x) { return {x: x, y: [barBottom, barTop]}; }),
    backgroundColor: color, barThickness: 8, grouped: false, clip: false, order: 3, inflateAmount: 0
  };
}

function markers(xs, style, radius, fill, stroke) {
  return {
    type: "line", showLine: false, data: xs.map(function(x) { return {x: x, y: markerRow}; }),
    pointStyle: style, pointRadius: radius, pointBackgroundColor: fill,
    pointBorderColor: stroke, pointBorderWidth: 2, clip: false, order: 1
  };
}

var framePlugin = {
  id: "frame",
  afterDraw: function(chart) {
    var ctx = chart.ctx, a = chart.chartArea, sx = chart.scales.x;
    ctx.save();
    ctx.strokeStyle = ink;
    ctx.lineWidth = 2.5;
    ctx.beginPath();
    ctx.moveTo(a.left, a.bottom); ctx.lineTo(a.left, a.top); ctx.lineTo(a.right, a.top); ctx.lineTo(a.right, a.bottom);
    ctx.stroke();
    ctx.lineWidth = 4;
    ctx.beginPath(); ctx.moveTo(a.left - 1, a.bottom); ctx.lineTo(a.right + 1, a.bottom); ctx.stroke();
    ctx.lineWidth = 3;
    tickValues.slice(1, -1).forEach(function(t) {
      var x = sx.getPixelForValue(t);
      ctx.beginPath(); ctx.moveTo(x, a.bottom); ctx.lineTo(x, a.bottom - 14); ctx.stroke();
    });
    ctx.fillStyle = ink;
    ctx.font = fontSize + "px " + font;
    (chart.options.plugins.frame.labels || []).forEach(function(l) {
      ctx.textAlign = l.align || "left";
      ctx.fillText(l.text, l.x, l.y);
    });
    ctx.restore();
  }
};

function drawLegend(chart) {
  var ctx = chart.ctx;
  ctx.save();
  ctx.strokeStyle = ink; ctx.lineWidth = 2.5;
  ctx.strokeRect(420, 1197.5, 1223, 396.5);
  var stroke = "#2b2128";
  var sym = function(name, fill, x, y) {
    ctx.fillStyle = fill; ctx.strokeStyle = stroke; ctx.lineWidth = 2;
    ctx.beginPath();
    if (name == "circle") ctx.arc(x, y, 10.5, 0, Math.PI * 2);
    if (name == "tri") { ctx.moveTo(x, y - 11); ctx.lineTo(x + 11.5, y + 10); ctx.lineTo(x - 11.5, y + 10); ctx.closePath(); }
    if (name == "rect") ctx.rect(x - 11, y - 10.5, 22, 21);
    if (name == "dia") diamondPath(ctx, x, y, 6.5, 10.5);
    ctx.fill(); ctx.stroke();
  };
  sym("circle", "#ed2024", 486, 1260);
  sym("tri", "#12a9c9", 486, 1335);
  sym("tri", "#c3268e", 486, 1399);
  sym("rect", "#c8c02c", 486, 1474);
  sym("dia", "#2a7ab8", 486, 1538);
  ctx.fillStyle = callColor; ctx.fillRect(1295.5, 1231, 8, 98);
  ctx.fillStyle = orangeColor; ctx.fillRect(1295.5, 1352, 8, 98);
  ctx.fillStyle = redColor; ctx.fillRect(1295.5, 1473, 8, 98);
  ctx.fillStyle = ink;
  ctx.font = fontSize + "px " + font;
  ctx.textAlign = "left";
  [["First RSAM alarm", 1273], ["First Okmok infrasound alarm", 1346], ["First Cleveland infrasound alarm", 1415],
   ["Each individual lightning alarm", 1484], ["Pilot reports (PIREPs)", 1548]].forEach(function(t) {
    ctx.fillText(t[0], 533, t[1]);
  });
  [["Call to FAA", 1293], ["Orange/Watch", 1388], ["VAN/VONA", 1433], ["Red/Warning", 1505], ["VAN/VONA", 1550]].forEach(function(t) {
    ctx.fillText(t[0], 1361, t[1]);
  });
  ctx.textAlign = "center";
  ctx.fillText("Minutes from eruption onset", 1041, 1160);
  ctx.restore();
}

function makePanel(id, p) {
  var diamond = diamondImage(15, 24, 2);
  var ds = []
    .concat(traceDatasets(p.seisEnv, p.seisFine, p.seisSpikes, seisBase, seisColor, 20, 1.2))
    .concat(traceDatasets(p.infraEnv, p.infraFine, p.infraSpikes, infraBase, infraColor, 10, 1.1));
  ds.push(eventBars(p.calls, callColor));
  ds.push(eventBars(p.orange, orangeColor));
  ds.push(eventBars(p.red, redColor));
  ds.push(markers(p.lightning, "rect", 9.5, "#c8c02c", "#2b2a14"));
  ds.push(markers(p.rsam, "circle", 7, "#ed2024", "#2b1a1a"));
  ds.push(markers(p.okmok, "triangle", 8.6, "#12a9b9", "#1c2b33"));
  ds.push(markers(p.cleveland, "triangle", 8.6, "#a8714a", "#2b2118"));
  ds.push(markers(p.pireps, diamond, 10, "#2a7ab8", "#1c2b33"));

  return new Chart(document.getElementById(id), {
    type: "line",
    data: { datasets: ds },
    options: {
      responsive: false,
      animation: false,
      devicePixelRatio: 1,
      events: [],
      layout: { autoPadding: false, padding: { left: 24, right: 25, top: p.top, bottom: p.bottom } },
      plugins: {
        legend: { display: false },
        tooltip: { enabled: false },
        frame: { labels: p.labels }
      },
      scales: {
        x: {
          type: "linear", min: -40, max: 80, display: p.showAxis, offset: false,
          grid: { display: false, offset: false }, border: { display: false },
          afterBuildTicks: function(s) { s.ticks = tickValues.map(function(v) { return {value: v}; }); },
          afterFit: function(s) {
            s.paddingLeft = 0; s.paddingRight = 0;
            s.height = p.showAxis ? 60 : 0;
          },
          ticks: {
            color: ink, font: { family: font, size: fontSize }, padding: 6,
            maxRotation: 0, autoSkip: false,
            callback: function(v) { return String(v); }
          }
        },
        y: {
          type: "linear", min: 0, max: 31.6, display: false,
          afterFit: function(s) { s.paddingTop = 0; s.paddingBottom = 0; s.width = 0; }
        }
      }
    },
    plugins: [framePlugin].concat(p.extra || [])
  });
}

makePanel("panelC", {
  top: 755, bottom: 468, showAxis: true,
  seisEnv: cSeisEnv, seisFine: cSeisFine, seisSpikes: cSeisSpikes.concat(cSeisFine),
  infraEnv: cInfraEnv, infraFine: cInfraFine, infraSpikes: cInfraSpikes.concat(cInfraFine),
  calls: cCalls, orange: cOrange, red: cRed, rsam: cRsam, okmok: cOkmok, cleveland: cCleveland, lightning: cLightning, pireps: cPireps,
  labels: [{text: "C) 2017-01-02", x: 52, y: 803}, {text: "13:52 AKST", x: 93, y: 838}],
  extra: [{id: "figLegend", afterDraw: drawLegend}]
});
makePanel("panelB", {
  top: 380, bottom: 904, showAxis: false,
  seisEnv: bSeisEnv, seisFine: bSeisFine, seisSpikes: bSeisSpikes.concat(bSeisFine),
  infraEnv: bInfraEnv, infraFine: bInfraFine, infraSpikes: bInfraSpikes.concat(bInfraFine),
  calls: bCalls, orange: bOrange, red: bRed, rsam: bRsam, okmok: bOkmok, cleveland: bCleveland, lightning: bLightning, pireps: bPireps,
  labels: [{text: "B) 2017-05-16", x: 52, y: 425}, {text: "22:32 AKDT", x: 92, y: 462}]
});
makePanel("panelA", {
  top: 3, bottom: 1280, showAxis: false,
  seisEnv: aSeisEnv, seisFine: aSeisFine, seisSpikes: aSeisSpikes.concat(aSeisFine),
  infraEnv: aInfraEnv, infraFine: aInfraFine, infraSpikes: aInfraSpikes.concat(aInfraFine),
  calls: aCalls, orange: aOrange, red: aRed, rsam: aRsam, okmok: aOkmok, cleveland: aCleveland, lightning: aLightning, pireps: aPireps,
  labels: [{text: "A) 2017-02-19", x: 1973, y: 50, align: "right"}, {text: "17:08 AKST", x: 1977, y: 86, align: "right"}]
});
</script>
</body>
</html>
